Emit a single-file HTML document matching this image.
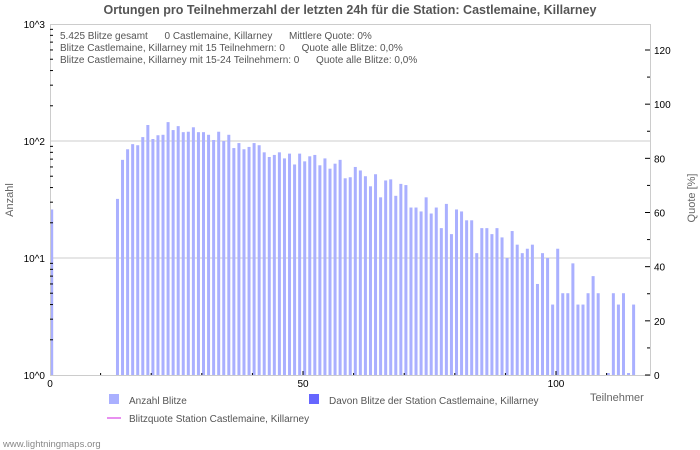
<!DOCTYPE html>
<html><head><meta charset="utf-8"><style>
body{margin:0;background:#fff;}
svg{display:block;font-family:"Liberation Sans","DejaVu Sans",sans-serif;}
.pre{white-space:pre;}
</style></head><body>
<svg id="chart" width="700" height="450" xmlns="http://www.w3.org/2000/svg">
<text x="350" y="14" text-anchor="middle" font-size="12.5" font-weight="bold" fill="#555">Ortungen pro Teilnehmerzahl der letzten 24h für die Station: Castlemaine, Killarney</text>
<g id="plot"></g>
<g font-size="10" fill="#555">
<text class="pre" x="60" y="39">5.425 Blitze gesamt      0 Castlemaine, Killarney      Mittlere Quote: 0%</text>
<text class="pre" x="60" y="51">Blitze Castlemaine, Killarney mit 15 Teilnehmern: 0      Quote alle Blitze: 0,0%</text>
<text class="pre" x="60" y="63">Blitze Castlemaine, Killarney mit 15-24 Teilnehmern: 0      Quote alle Blitze: 0,0%</text>
</g>
<text transform="translate(13,200) rotate(-90)" text-anchor="middle" font-size="11" fill="#666">Anzahl</text>
<text transform="translate(695,198) rotate(-90)" text-anchor="middle" font-size="11" fill="#666">Quote [%]</text>
<text x="590" y="401" font-size="11" fill="#666">Teilnehmer</text>
<g font-size="10" fill="#555">
<rect x="109" y="394" width="10" height="10" fill="#aab0ff"/>
<text x="129" y="404">Anzahl Blitze</text>
<rect x="309" y="394" width="10" height="10" fill="#6666ff"/>
<text x="329" y="404">Davon Blitze der Station Castlemaine, Killarney</text>
<line x1="107" y1="418" x2="121" y2="418" stroke="#e890f0" stroke-width="2"/>
<text x="129" y="422">Blitzquote Station Castlemaine, Killarney</text>
</g>
<text x="3" y="447" font-size="9.5" fill="#888">www.lightningmaps.org</text>
</svg>
<script>
const counts=[26,0,0,0,0,0,0,0,0,0,0,0,0,32,69,85,94,92,108,137,104,112,113,145,124,134,119,120,131,119,119,113,102,120,100,113,87,96,85,89,96,92,80,73,76,80,71,78,63,78,67,74,76,62,71,58,64,69,48,49,60,56,50,41,52,33,46,47,34,43,42,27,27,25,33,24,27,18,29,16,26,25,21,21,11,18,18,16,18,15,10,17,13,11,12,13,6,11,10,4,12,5,5,9,4,4,5,7,5,0,1,5,4,5,1,4];
const xTicks=[0,50,100];
const yTicks=["10^0","10^1","10^2","10^3"];
const y2Ticks=[0,20,40,60,80,100,120];
const NS="http://www.w3.org/2000/svg";
const L=50,R=650,T=24,B=375;
const xs=v=>51.7+5.06*v;
const ys=v=>B-(Math.log10(v))*(B-T)/3;
const y2=v=>B-v*(B-50)/120;
const g=document.getElementById('plot');
function mk(t,a){const e=document.createElementNS(NS,t);for(const k in a)e.setAttribute(k,a[k]);g.appendChild(e);return e;}
for(let d=1;d<=2;d++){const l=mk('line',{x1:L,x2:R,y1:ys(Math.pow(10,d)),y2:ys(Math.pow(10,d)),stroke:'#ccc'});

}
counts.forEach((c,i)=>{if(c<=0)return;const h=Math.max(B-ys(c),2);const r=mk('rect',{x:xs(i)-1.5,y:B-h,width:3,height:h,fill:'#aab0ff'});

});
const fr=mk('rect',{x:L+0.5,y:T+0.5,width:R-L,height:B-T,fill:'none',stroke:'#ccc'});


yTicks.forEach((t,d)=>{const y=ys(Math.pow(10,d));const tx=mk('text',{x:45,y:y+4,'text-anchor':'end','font-size':10,fill:'#000'});tx.textContent=t;


if(d<3)for(let m=2;m<=9;m++){const yy=ys(m*Math.pow(10,d));mk('line',{x1:L,x2:L+3,y1:yy,y2:yy,stroke:'#000'});}});
y2Ticks.forEach(v=>{const y=y2(v);mk('line',{x1:R-5,x2:R,y1:y,y2:y,stroke:'#000'});if(v<120)mk('line',{x1:R-3,x2:R,y1:y2(v+10),y2:y2(v+10),stroke:'#000'});
const tx=mk('text',{x:R+4,y:y+4,'font-size':10,fill:'#000'});tx.textContent=v;

});
for(let v=10;v<=110;v+=10){mk('line',{x1:xs(v)-1.7,x2:xs(v)-1.7,y1:B,y2:B-(v%50?2:4),stroke:'#000'});}
xTicks.forEach(v=>{const tx=mk('text',{x:xs(v)-1.7,y:B+12,'text-anchor':'middle','font-size':10,fill:'#000'});tx.textContent=v;

});
</script>
</body></html>
